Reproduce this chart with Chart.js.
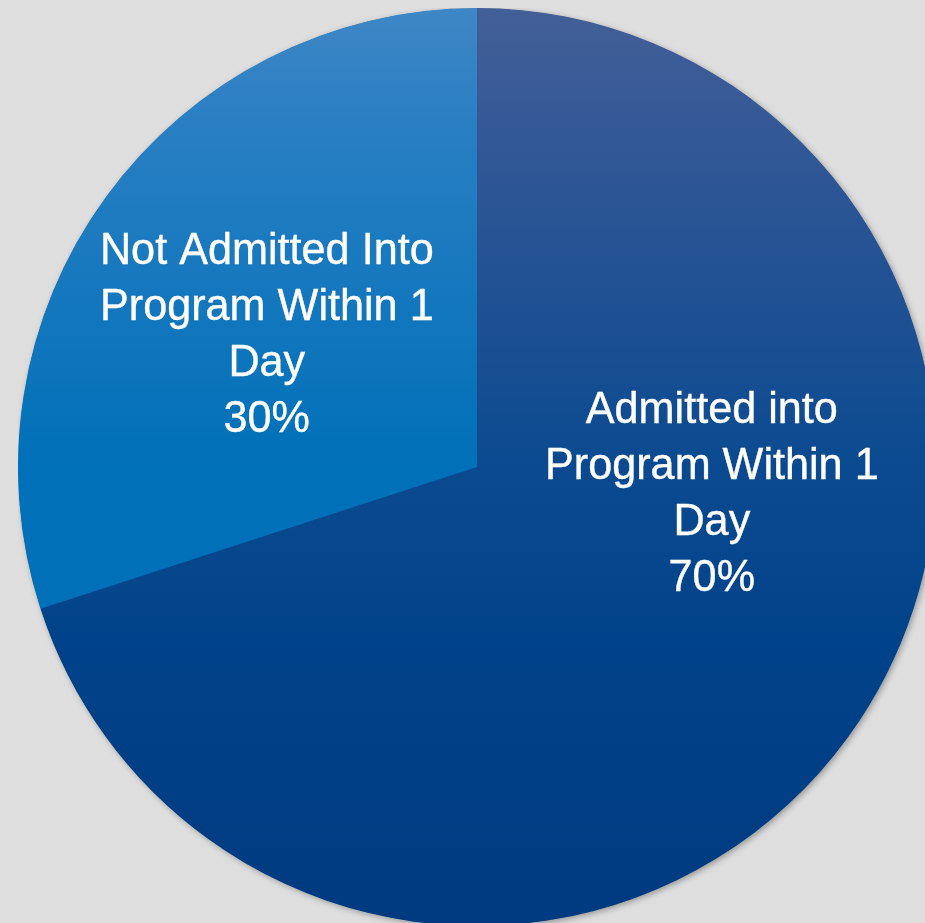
<!DOCTYPE html>
<html>
<head>
<meta charset="utf-8">
<script src="https://cdn.jsdelivr.net/npm/chart.js@4/dist/chart.umd.min.js"></script>
<style>
  html, body { margin: 0; padding: 0; background: #dedede; overflow: hidden; width: 925px; height: 923px; }
  #wrap { position: absolute; left: 18px; top: 8px; width: 918px; height: 918px; }
</style>
</head>
<body>
<div id="wrap"><canvas id="chartPie"></canvas></div>
<script>
// data
const labels = ["Admitted into\nProgram Within 1\nDay", "Not Admitted Into\nProgram Within 1\nDay"];
const values = [70, 30];

// gradient stops per slice (top -> bottom)
const gradStops = [
  [[0, "#435f98"], [0.2, "#2c5595"], [0.5, "#0b4a90"], [0.7, "#004289"], [1, "#003a80"]],
  [[0, "#3f87c6"], [0.12, "#2a7fc3"], [0.5, "#0070b8"], [1, "#0070b8"]],
];

// label anchors: angle (deg, canvas) and distance as fraction of radius
const labelAnchor = [
  { angle: 6.6, dist: 0.515 },
  { angle: 212, dist: 0.54 },
];

function sliceGradient(ctx) {
  const chart = ctx.chart;
  const area = chart.chartArea;
  if (!area) return "#003a80";
  const g = chart.ctx.createLinearGradient(0, area.top, 0, area.bottom);
  gradStops[ctx.dataIndex].forEach((s) => g.addColorStop(s[0], s[1]));
  return g;
}

// soft shadow round the whole pie (drawn once, under the slices)
const shadowPlugin = {
  id: "pieShadow",
  beforeDatasetsDraw(chart) {
    const arc = chart.getDatasetMeta(0).data[0];
    if (!arc) return;
    const c = chart.ctx;
    c.save();
    c.shadowColor = "rgba(0,0,0,0.35)";
    c.shadowBlur = 6;
    c.shadowOffsetX = 2;
    c.shadowOffsetY = 2;
    c.fillStyle = "#0a4a8e";
    c.beginPath();
    c.arc(arc.x, arc.y, arc.outerRadius - 0.5, 0, Math.PI * 2);
    c.fill();
    c.restore();
  },
};

// slice labels
const labelPlugin = {
  id: "sliceLabels",
  afterDraw(chart) {
    const c = chart.ctx;
    const meta = chart.getDatasetMeta(0);
    meta.data.forEach((arc, i) => {
      const a = (labelAnchor[i].angle * Math.PI) / 180;
      const r = arc.outerRadius * labelAnchor[i].dist;
      const x = arc.x + Math.cos(a) * r;
      const y = arc.y + Math.sin(a) * r;
      const lines = labels[i].split("\n").concat([values[i] + "%"]);
      const lh = 56;
      c.save();
      c.translate(x, y);
      c.scale(0.96, 1);
      c.fillStyle = "#ffffff";
      c.strokeStyle = "#ffffff";
      c.lineWidth = 0.4;
      c.font = "45px 'Liberation Sans Narrow', 'Arial Narrow', 'Liberation Sans', sans-serif";
      c.textAlign = "center";
      c.textBaseline = "middle";
      lines.forEach((ln, k) => {
        const ly = (k - (lines.length - 1) / 2) * lh;
        c.fillText(ln, 0, ly);
        c.strokeText(ln, 0, ly);
      });
      c.restore();
    });
  },
};

new Chart(document.getElementById("chartPie"), {
  type: "pie",
  data: {
    labels: labels,
    datasets: [
      {
        data: values,
        backgroundColor: sliceGradient,
        borderWidth: 0,
      },
    ],
  },
  options: {
    responsive: true,
    maintainAspectRatio: false,
    animation: false,
    layout: { padding: 0 },
    plugins: {
      legend: { display: false },
      tooltip: { enabled: false },
    },
  },
  plugins: [shadowPlugin, labelPlugin],
});
</script>
</body>
</html>
